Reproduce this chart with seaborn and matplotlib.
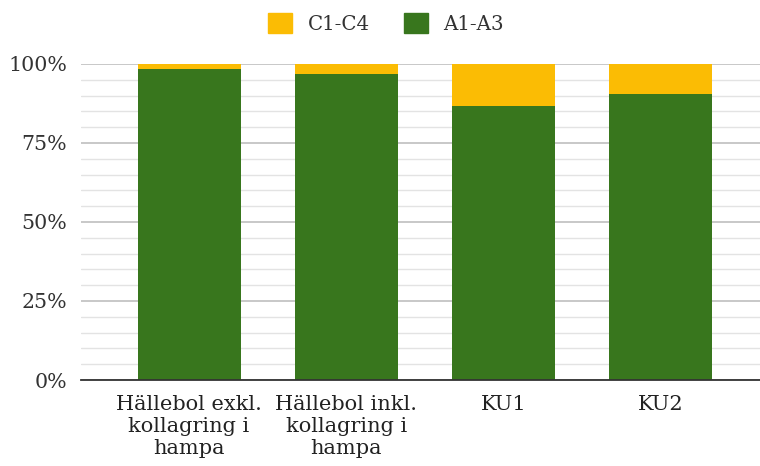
import matplotlib
matplotlib.use("Agg")
import matplotlib.pyplot as plt
import matplotlib.patches as mpatches
from matplotlib.ticker import MultipleLocator, FuncFormatter
import seaborn as sns
import pandas as pd

categories = ["Hällebol exkl.\nkollagring i\nhampa", "Hällebol inkl.\nkollagring i\nhampa", "KU1", "KU2"]
a1_a3 = [98.3, 96.9, 86.7, 90.4]
c1_c4 = [100 - v for v in a1_a3]
series_names = ["C1-C4", "A1-A3"]

green = "#38761d"
yellow = "#fbbc04"

sns.set_theme(style="white")
plt.rcParams["font.family"] = ["DejaVu Serif", "DejaVu Sans"]

df = pd.DataFrame({"cat": categories, "A": a1_a3, "C": c1_c4})
df["total"] = df["A"] + df["C"]

fig = plt.figure(figsize=(7.6, 4.66), dpi=100)
ax = fig.add_axes([81 / 760, (466 - 380) / 466, 1 - 81 / 760, (380 - 64) / 466])

# stacked bars: full total in yellow, green share drawn over it
sns.barplot(data=df, x="cat", y="total", color=yellow, width=0.655, ax=ax,
            saturation=1, linewidth=0, zorder=3)
sns.barplot(data=df, x="cat", y="A", color=green, width=0.655, ax=ax,
            saturation=1, linewidth=0, zorder=4)

ax.set_ylim(0, 100)
ax.set_xlim(-0.687, 3.63)
ax.yaxis.set_major_locator(MultipleLocator(25))
ax.yaxis.set_minor_locator(MultipleLocator(5))
ax.yaxis.set_major_formatter(FuncFormatter(lambda v, p: f"{int(v)}%"))
ax.grid(axis="y", which="major", color="#c4c4c4", linewidth=1.3, zorder=0)
ax.grid(axis="y", which="minor", color="#e3e3e3", linewidth=1.0, zorder=0)
ax.set_axisbelow(True)
for s in ["top", "right", "left"]:
    ax.spines[s].set_visible(False)
ax.spines["bottom"].set_color("#333333")
ax.spines["bottom"].set_linewidth(1.3)
ax.spines["bottom"].set_zorder(6)
ax.tick_params(axis="both", which="both", length=0)
ax.tick_params(axis="y", pad=10, labelsize=14.8, colors="#333333")
ax.tick_params(axis="x", pad=11, labelsize=15, colors="#222222")
for lab in ax.get_xticklabels():
    lab.set_linespacing(1.2)
ax.set_xlabel("")
ax.set_ylabel("")

handles = [mpatches.Patch(color=yellow), mpatches.Patch(color=green)]
fig.legend(handles, series_names, loc="upper center", bbox_to_anchor=(0.508, 1.01),
           ncol=2, frameon=False, fontsize=14.2, handlelength=1.22, handleheight=1.17,
           columnspacing=1.7, handletextpad=0.8, labelcolor="#333333")

fig.savefig("out.png", dpi=100)
